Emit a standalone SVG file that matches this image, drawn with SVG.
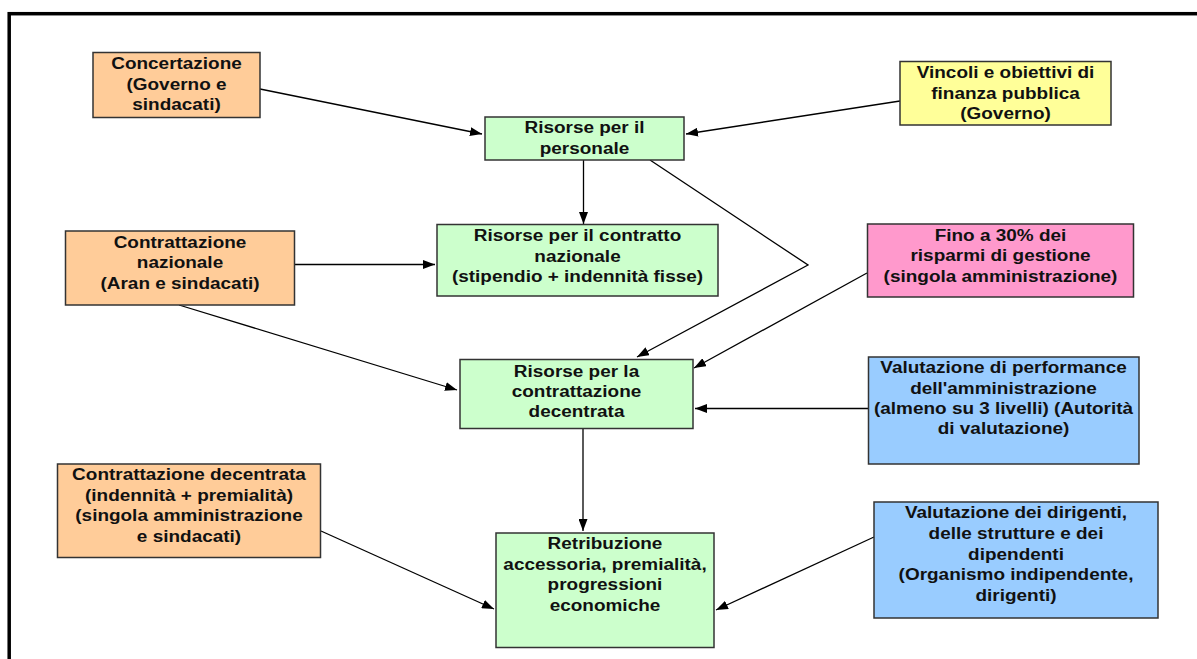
<svg xmlns="http://www.w3.org/2000/svg" width="1197" height="659" viewBox="0 0 1197 659">
<style>
.box{stroke:#333;stroke-width:1.5}
.peach{fill:#FFCC99}.green{fill:#CCFFCC}.yellow{fill:#FFFF99}.pink{fill:#FF99CC}.blue{fill:#99CCFF}
.t{font-family:"Liberation Sans",Arial,sans-serif;font-weight:bold;font-size:17px;fill:#111;text-anchor:middle}
.c{stroke:#000;stroke-width:1.3;fill:none}
.a{marker-end:url(#arr)}
</style>
<defs>
<marker id="arr" markerUnits="userSpaceOnUse" markerWidth="13" markerHeight="9" refX="12" refY="4.5" orient="auto">
<path d="M0,0 L12,4.5 L0,9 z" fill="#000"/>
</marker>
</defs>
<rect x="9.2" y="13.7" width="1200" height="700" fill="none" stroke="#000" stroke-width="3.5"/>
<g id="connectors">
<line class="c a" x1="260" y1="89" x2="482" y2="134"/>
<line class="c a" x1="900" y1="101" x2="686" y2="134"/>
<line class="c a" x1="583.5" y1="160" x2="583.5" y2="224"/>
<polyline class="c a" points="650,160 808,265 637,357"/>
<line class="c a" x1="867" y1="273" x2="694" y2="368"/>
<line class="c a" x1="295" y1="264.5" x2="435" y2="264.5"/>
<line class="c a" x1="179" y1="305" x2="457" y2="390"/>
<line class="c a" x1="868" y1="408.5" x2="695" y2="408.5"/>
<line class="c a" x1="583" y1="428" x2="583" y2="531"/>
<line class="c a" x1="321" y1="531" x2="494" y2="609"/>
<line class="c a" x1="874" y1="537" x2="716" y2="610"/>
</g>
<g id="concertazione">
<rect class="box peach" x="93" y="52.5" width="167" height="65"/>
<text class="t" transform="matrix(1.115 0 0 1 176.5 0)"><tspan x="0" y="69.5">Concertazione</tspan><tspan x="0" y="90">(Governo e</tspan><tspan x="0" y="110.5">sindacati)</tspan></text>
</g>
<g id="risorse-personale">
<rect class="box green" x="485" y="117" width="199" height="43"/>
<text class="t" transform="matrix(1.115 0 0 1 584.5 0)"><tspan x="0" y="133.5">Risorse per il</tspan><tspan x="0" y="154">personale</tspan></text>
</g>
<g id="vincoli">
<rect class="box yellow" x="900" y="61.5" width="211" height="63.5"/>
<text class="t" transform="matrix(1.115 0 0 1 1005.5 0)"><tspan x="0" y="78.5">Vincoli e obiettivi di</tspan><tspan x="0" y="99.5">finanza pubblica</tspan><tspan x="0" y="119.5">(Governo)</tspan></text>
</g>
<g id="contrattazione-nazionale">
<rect class="box peach" x="65.5" y="231" width="229" height="74"/>
<text class="t" transform="matrix(1.115 0 0 1 180 0)"><tspan x="0" y="248.5">Contrattazione</tspan><tspan x="0" y="268.5">nazionale</tspan><tspan x="0" y="289.5">(Aran e sindacati)</tspan></text>
</g>
<g id="risorse-contratto">
<rect class="box green" x="437" y="224.5" width="281" height="71.5"/>
<text class="t" transform="matrix(1.115 0 0 1 577.5 0)"><tspan x="0" y="241">Risorse per il contratto</tspan><tspan x="0" y="262">nazionale</tspan><tspan x="0" y="282.5">(stipendio + indennità fisse)</tspan></text>
</g>
<g id="fino-30">
<rect class="box pink" x="867.5" y="224" width="266" height="73"/>
<text class="t" transform="matrix(1.115 0 0 1 1000.5 0)"><tspan x="0" y="241">Fino a 30% dei</tspan><tspan x="0" y="261.5">risparmi di gestione</tspan><tspan x="0" y="282.5">(singola amministrazione)</tspan></text>
</g>
<g id="risorse-decentrata">
<rect class="box green" x="460" y="359.5" width="233" height="69"/>
<text class="t" transform="matrix(1.115 0 0 1 576.5 0)"><tspan x="0" y="377">Risorse per la</tspan><tspan x="0" y="397.5">contrattazione</tspan><tspan x="0" y="417.5">decentrata</tspan></text>
</g>
<g id="valutazione-performance">
<rect class="box blue" x="868.5" y="357" width="270.5" height="107"/>
<text class="t" transform="matrix(1.115 0 0 1 1003.5 0)"><tspan x="0" y="373.5">Valutazione di performance</tspan><tspan x="0" y="394.5">dell'amministrazione</tspan><tspan x="0" y="414.5">(almeno su 3 livelli) (Autorità</tspan><tspan x="0" y="434.5">di valutazione)</tspan></text>
</g>
<g id="contrattazione-decentrata">
<rect class="box peach" x="57.5" y="464" width="263" height="93.5"/>
<text class="t" transform="matrix(1.115 0 0 1 189 0)"><tspan x="0" y="480">Contrattazione decentrata</tspan><tspan x="0" y="501">(indennità + premialità)</tspan><tspan x="0" y="521.5">(singola amministrazione</tspan><tspan x="0" y="542">e sindacati)</tspan></text>
</g>
<g id="retribuzione">
<rect class="box green" x="496" y="533" width="218" height="114.5"/>
<text class="t" transform="matrix(1.115 0 0 1 605 0)"><tspan x="0" y="549.5">Retribuzione</tspan><tspan x="0" y="570">accessoria, premialità,</tspan><tspan x="0" y="590.5">progressioni</tspan><tspan x="0" y="611.5">economiche</tspan></text>
</g>
<g id="valutazione-dirigenti">
<rect class="box blue" x="874" y="502" width="284" height="116"/>
<text class="t" transform="matrix(1.115 0 0 1 1016 0)"><tspan x="0" y="518.5">Valutazione dei dirigenti,</tspan><tspan x="0" y="539.5">delle strutture e dei</tspan><tspan x="0" y="560">dipendenti</tspan><tspan x="0" y="580.5">(Organismo indipendente,</tspan><tspan x="0" y="601">dirigenti)</tspan></text>
</g>
</svg>
